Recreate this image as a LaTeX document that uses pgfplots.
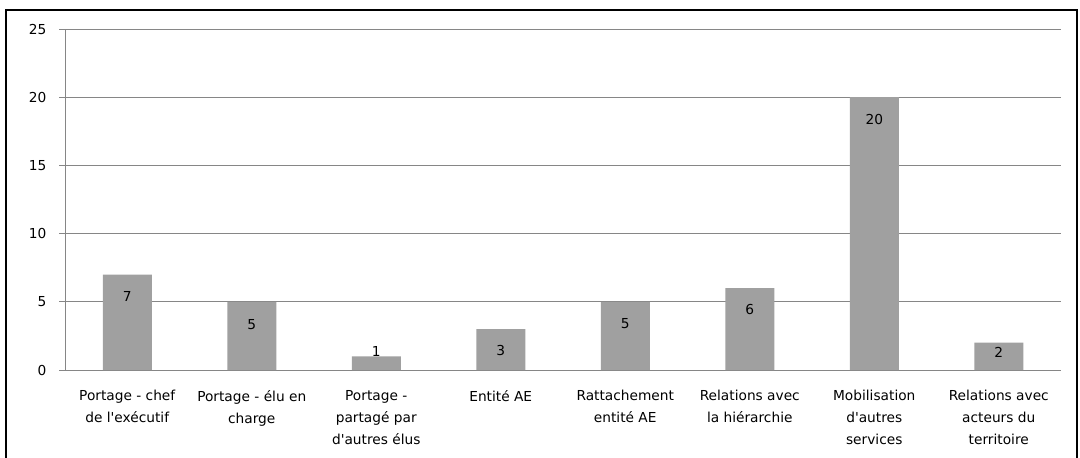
\documentclass[border=0pt]{standalone}
\usepackage{pgfplots}
\pgfplotsset{compat=1.18}
\usepackage{pgfplotstable}
\usepackage{fontspec}
\defaultfontfeatures[\rmfamily]{}
\setmainfont{DejaVu Sans}
\definecolor{barfill}{RGB}{160,160,160}
\definecolor{gridc}{RGB}{134,134,134}
\pgfplotstableread{
x y off
1 7 -16.5
2 5 -17
3 1 4
4 3 -16
5 5 -16.5
6 6 -16
7 20 -16.5
8 2 -7.5
}\data
\begin{document}
\begin{tikzpicture}
\useasboundingbox (0pt,0pt) rectangle (810pt,-342.75pt);
\draw[line width=1.6pt] (4.5pt,-7.5pt) rectangle (807.75pt,-360pt);
\begin{axis}[
  at={(48.75pt,-277.5pt)}, anchor=south west,
  scale only axis, width=747pt, height=255.75pt,
  xmin=0.5, xmax=8.5, ymin=0, ymax=25,
  ytick={0,5,...,25},
  ymajorgrids, grid style={gridc, line width=0.6pt},
  axis line style={gridc, line width=0.6pt},
  axis x line*=bottom, axis y line*=left,
  y axis line style={-}, x axis line style={-},
  xtick={1,...,8},
  xticklabels={{Portage - chef\\de l'exécutif},{Portage - élu en\\charge},{Portage -\\partagé par\\d'autres élus},{Entité AE},{Rattachement\\entité AE},{Relations avec\\la hiérarchie},{Mobilisation\\d'autres\\services},{Relations avec\\acteurs du\\territoire}},
  x tick label style={align=center, font=\fontsize{10.3}{16.5}\selectfont, yshift=-7pt},
  y tick label style={font=\fontsize{10.3}{11}\selectfont, xshift=-6pt},
  major x tick style={draw=none},
  ytick style={gridc, line width=0.6pt},
  major tick length=4.5pt,
  tick align=outside,
  extra x ticks={0.5,1.5,...,8.5},
  extra x tick labels={},
  extra x tick style={grid=none, tick style={gridc, line width=0.6pt, draw=gridc}, major tick length=4.5pt},
  /pgf/number format/assume math mode=true,
  clip=false,
]
\addplot[ybar, bar width=36.75pt, fill=barfill, draw=none, bar shift=0pt] table[x=x,y=y]{\data};
\addplot[draw=none, mark=none, nodes near coords, point meta=y,
  visualization depends on={\thisrow{off} \as \off},
  every node near coord/.style={anchor=center, yshift=\off pt, font=\fontsize{10.3}{11}\selectfont, text=black}]
  table[x=x,y=y]{\data};
\end{axis}
\end{tikzpicture}
\end{document}
